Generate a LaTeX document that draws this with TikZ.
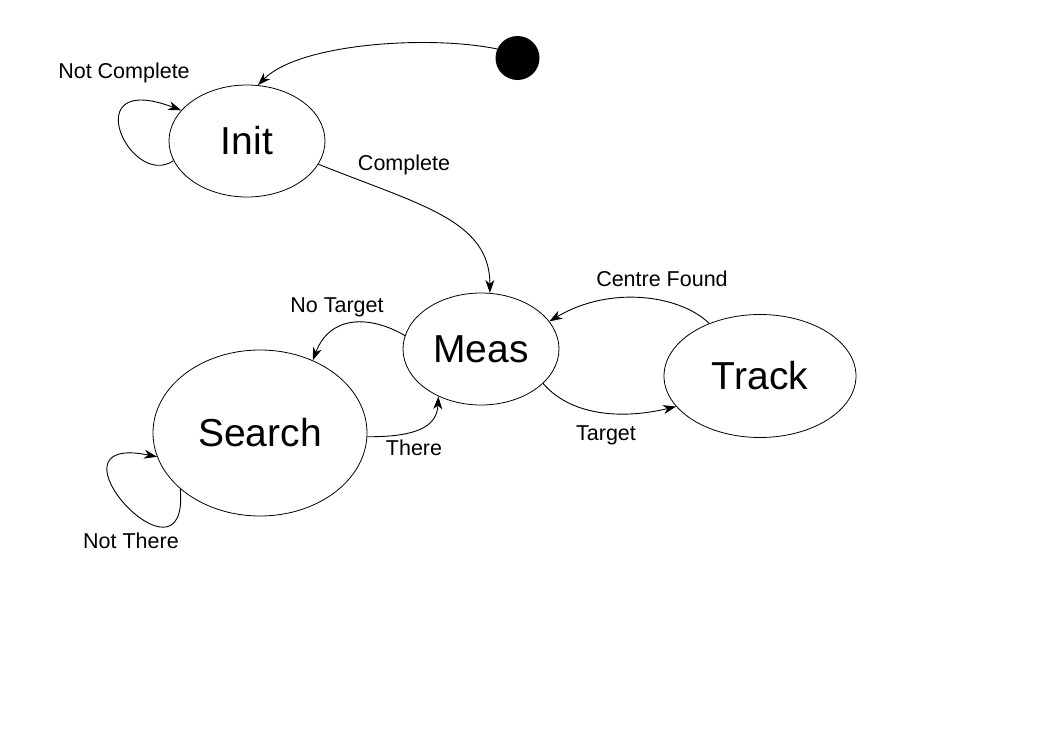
\documentclass[tikz,border=0pt]{standalone}
\usepackage{fontspec}
\setmainfont{Liberation Sans}
\usetikzlibrary{arrows.meta,shapes.geometric}
\begin{document}
\begin{tikzpicture}[x=1pt,y=-1pt,
  state/.style={ellipse,draw,line width=0.8pt,inner sep=0pt,font=\fontsize{39}{39}\selectfont},
  lbl/.style={font=\fontsize{21.5}{22}\selectfont,inner sep=0pt},
  tr/.style={line width=0.9pt,-{Stealth[length=13pt,width=9pt,inset=4pt]}}]
\useasboundingbox[fill=white] (0,0) rectangle (1053,745);
\node[state,minimum width=156pt,minimum height=112pt] (init) at (247,141) {Init};
\node[state,minimum width=156pt,minimum height=112pt] (meas) at (481,349) {Meas};
\node[state,minimum width=214pt,minimum height=166pt] (search) at (260,433) {Search};
\node[state,minimum width=192pt,minimum height=123pt] (track) at (760,376) {Track};
\node[circle,fill=black,minimum size=44pt,inner sep=0pt] (start) at (517.5,58) {};
\draw[tr] (start.156) .. controls (430,35) and (300,43) .. (init.79);
\draw[tr] (init.195.6) .. controls (130,190) and (75,70) .. (init.155.8);
\draw[tr] (init.-18) .. controls (420,205) and (490,220) .. (meas.81);
\draw[tr] (meas.170) .. controls (370,315) and (330,315) .. (search.54);
\draw[tr] (search.-2) .. controls (420,437) and (437,425) .. (meas.228);
\draw[tr] (search.215.7) .. controls (190,600) and (35,432) .. (search.193.8);
\draw[tr] (meas.-29) .. controls (570,415) and (620,420) .. (track.200);
\draw[tr] (track.134) .. controls (680,295) and (610,285) .. (meas.22);
\node[lbl] (l1) at (124,73) {Not Complete};
\node[lbl] (l2) at (404,165) {Complete};
\node[lbl] (l3) at (337,307) {No Target};
\node[lbl] (l4) at (414,448) {There};
\node[lbl] (l5) at (131,541) {Not There};
\node[lbl] (l6) at (662,279) {Centre Found};
\node[lbl] (l7) at (606,435) {Target};
\end{tikzpicture}
\end{document}
